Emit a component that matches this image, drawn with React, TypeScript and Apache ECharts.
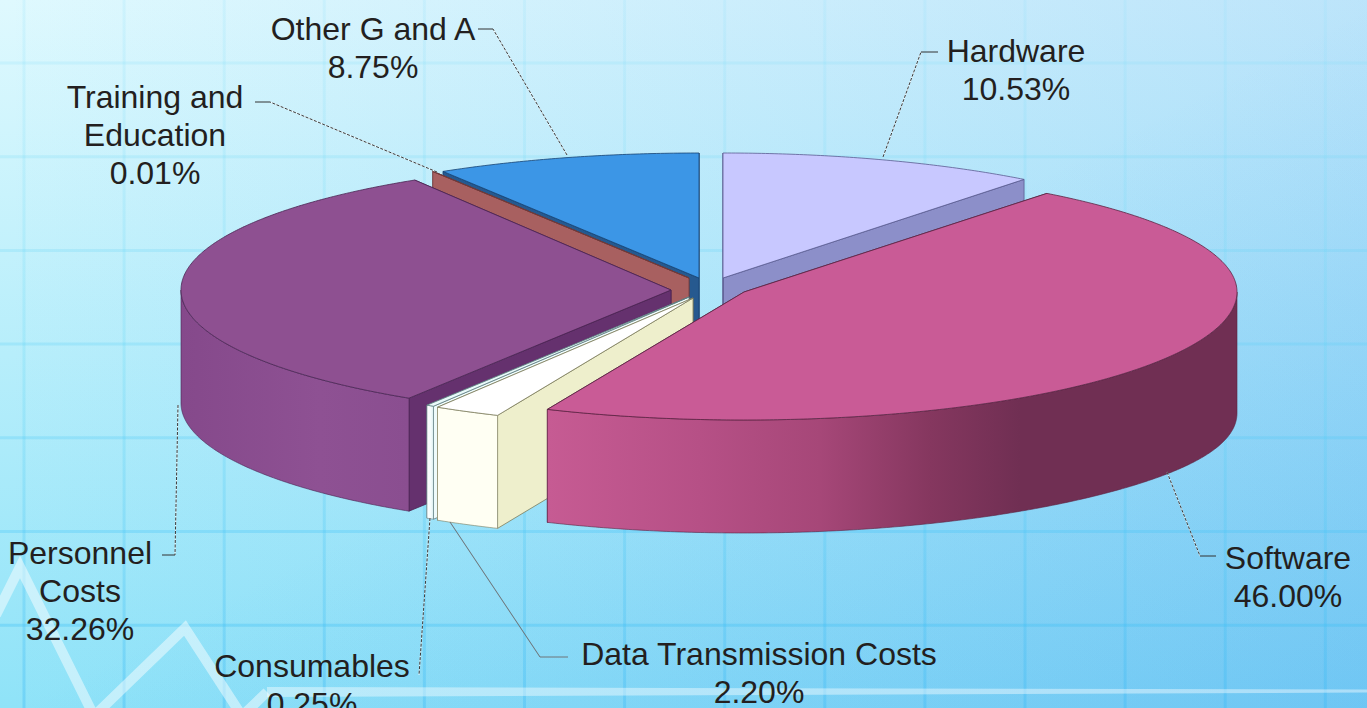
import React, { useEffect, useRef } from "react";
import * as echarts from "echarts";

const categories = ["Hardware", "Software", "Data Transmission Costs", "Consumables", "Personnel Costs", "Training and Education", "Other G and A"];
const shares = [10.53, 46.0, 2.2, 0.25, 32.26, 0.01, 8.75];
const wrappedNames = ["Hardware", "Software", "Data Transmission Costs", "Consumables", "Personnel\nCosts", "Training and\nEducation", "Other G and A"];

// Layout of each exploded slice (apex of the top face)
const apexX = [723, 744, 693, 689, 671, 689, 699];
const apexY = [278, 292, 298, 297, 290, 278, 278];
const radiusX = [490, 493, 490, 490, 490, 490, 490];
const radiusBack = [125, 125, 125, 125, 129, 125, 125];
const topColors = ["#C8C8FF", "#C95B96", "#FFFFFF", "#EAFBFB", "#8E5091", "#A86060", "#3C96E6"];
const wallColors = ["#8C8FC9", "#702F52", "#EEEFCC", "#EEFBFB", "#65316E", "#A86060", "#26598F"];
const edgeColors = ["#5A5C90", "#5A2442", "#7C7C5C", "#5E7C80", "#4A2452", "#6E3A3A", "#174272"];
const paintOrder = [6, 5, 0, 4, 3, 2, 1];

const outerStops: Record<number, [number, string][]> = {
  1: [[548, "#C65B93"], [700, "#B65086"], [820, "#A64778"], [930, "#85375F"], [1020, "#702F53"], [1237, "#702F53"]],
  2: [[437, "#FFFFF3"], [496, "#FFFFF3"]],
  3: [[427, "#FFFFFF"], [431, "#F4FCFC"], [436, "#B8DCE0"]],
  4: [[181, "#85498B"], [320, "#8E5193"], [408, "#8A4E90"]],
};

const labelCenterX = [1016, 1288, 759, 312, 80, 155, 373];
const labelTopY = [32, 539, 635, 647, 534, 78, 10];
const labelLineHeight = 38;
const leaderLines: number[][][] = [
  [[883, 157], [921, 52], [938, 52]],
  [[1167, 472], [1200, 556], [1216, 556]],
  [[450, 522], [540, 657], [568, 657]],
  [[430, 518], [419, 675], [419, 675]],
  [[178, 405], [175, 555], [162, 555]],
  [[437, 172], [270, 102], [255, 102]],
  [[567, 155], [493, 29], [478, 29]],
];

const RY_FRONT = 128;
const DEPTH = 113;
const SAG = 8;

const startPct: number[] = [];
shares.reduce((sum, v, i) => {
  startPct[i] = sum;
  return sum + v;
}, 0);

function rim(i: number, deg: number, dy = 0): number[] {
  const a = (deg * Math.PI) / 180;
  const c = Math.cos(a);
  const s = Math.sin(a);
  const ry = c > 0 ? radiusBack[i] : RY_FRONT;
  const sag = dy > 0 && s > 0 ? SAG * Math.pow(s, 6) : 0;
  return [apexX[i] + radiusX[i] * s, apexY[i] - ry * c + dy + sag];
}

function arcPoints(i: number, from: number, to: number, dy = 0): number[][] {
  const out: number[][] = [];
  const n = Math.max(1, Math.ceil(Math.abs(to - from) / 0.5));
  for (let k = 0; k <= n; k++) out.push(rim(i, from + ((to - from) * k) / n, dy));
  return out;
}

function wall(i: number, deg: number) {
  const p = rim(i, deg);
  return [[apexX[i], apexY[i]], p, [p[0], p[1] + DEPTH], [apexX[i], apexY[i] + DEPTH]];
}

function renderSlice(_: any, api: any) {
  const i = api.value(1) as number;
  const share = api.value(0) as number;
  const a0 = (startPct[i] / 100) * 360;
  const a1 = a0 + (share / 100) * 360;
  const children: any[] = [];
  const edge = { stroke: edgeColors[i], lineWidth: 0.8 };
  children.push({ type: "polygon", shape: { points: wall(i, a1) }, style: { fill: wallColors[i], ...edge } });
  children.push({ type: "polygon", shape: { points: wall(i, a0) }, style: { fill: wallColors[i], ...edge } });
  const f0 = Math.max(a0, 90);
  const f1 = Math.min(a1, 270);
  if (f1 > f0 && outerStops[i]) {
    const top = arcPoints(i, f0, f1);
    const bottom = arcPoints(i, f1, f0, DEPTH);
    const xs = outerStops[i];
    const lo = xs[0][0];
    const hi = xs[xs.length - 1][0];
    const fill = new echarts.graphic.LinearGradient(
      lo, 0, hi, 0,
      xs.map(([x, color]) => ({ offset: (x - lo) / (hi - lo), color })),
      true
    );
    children.push({ type: "polygon", shape: { points: top.concat(bottom) }, style: { fill, stroke: edgeColors[i], lineWidth: 0.6 } });
  }
  const face = [[apexX[i], apexY[i]], ...arcPoints(i, a0, a1)];
  children.push({ type: "polygon", shape: { points: face }, style: { fill: topColors[i], stroke: edgeColors[i], lineWidth: 0.8 } });
  return { type: "group", children };
}

function renderLabel(_: any, api: any) {
  const i = api.value(1) as number;
  const share = api.value(0) as number;
  const pts = leaderLines[i];
  const plain = i === 2;
  return {
    type: "group",
    children: [
      { type: "polyline", shape: { points: pts.slice(0, 2) }, style: { fill: "none", stroke: plain ? "rgba(90,90,90,0.1)" : "rgba(255,255,255,0.7)", lineWidth: 1.1 } },
      { type: "polyline", shape: { points: pts.slice(0, 2) }, style: { fill: "none", stroke: plain ? "#6f7478" : "#3a3a3a", lineWidth: 1, lineDash: plain ? undefined : [3, 1.5] } },
      { type: "polyline", shape: { points: pts.slice(1) }, style: { fill: "none", stroke: plain ? "#6f7478" : "#333", lineWidth: 1 } },
      {
        type: "text",
        style: {
          text: `${wrappedNames[i]}\n${share.toFixed(2)}%`,
          x: labelCenterX[i],
          y: labelTopY[i],
          align: "center",
          verticalAlign: "top",
          fontFamily: "Liberation Sans",
          fontSize: 32,
          lineHeight: labelLineHeight,
          fill: "#231F20",
        },
      },
    ],
  };
}

function gridStroke() {
  return new echarts.graphic.LinearGradient(0, 0, 0, 708, [
    { offset: 0, color: "rgba(150,225,250,0.2)" },
    { offset: 0.5, color: "rgba(100,215,245,0.24)" },
    { offset: 1, color: "rgba(60,185,245,0.36)" },
  ], true);
}

function backdrop() {
  const els: any[] = [
    {
      type: "rect",
      shape: { x: 0, y: 0, width: 1367, height: 708 },
      style: {
        fill: new echarts.graphic.LinearGradient(0, 0, 0, 1, [
          { offset: 0, color: "#DFF9FE" },
          { offset: 1, color: "#8FE3F8" },
        ]),
      },
    },
    {
      type: "rect",
      shape: { x: 0, y: 0, width: 1367, height: 708 },
      style: {
        fill: new echarts.graphic.LinearGradient(0, 0, 1, 0, [
          { offset: 0, color: "rgba(40,140,235,0)" },
          { offset: 1, color: "rgba(40,140,235,0.19)" },
        ]),
      },
    },
    {
      type: "rect",
      shape: { x: 0, y: 0, width: 1367, height: 708 },
      style: {
        fill: new echarts.graphic.LinearGradient(0.5, 0.5, 1, 1, [
          { offset: 0, color: "rgba(30,120,230,0)" },
          { offset: 1, color: "rgba(30,120,230,0.14)" },
        ]),
      },
    },
  ];
  for (let k = 0; k < 14; k++) {
    const x = 24 + 100.1 * k;
    els.push({ type: "line", shape: { x1: x, y1: 0, x2: x, y2: 708 }, style: { stroke: gridStroke(), lineWidth: 3 } });
  }
  for (let k = 0; k < 7; k++) {
    const y = 63 + 93.7 * k;
    els.push({ type: "line", shape: { x1: 0, y1: y, x2: 1367, y2: y }, style: { stroke: `rgba(${120 - k * 10},${222 - k * 5},247,${0.18 + k * 0.025})`, lineWidth: 3 } });
  }
  els.push({
    type: "polyline",
    shape: { points: [[-4, 615], [20, 567], [94, 716], [185, 628], [242, 716], [267, 692]] },
    style: { fill: "none", stroke: "rgba(255,255,255,0.48)", lineWidth: 10, lineJoin: "miter" },
  });
  els.push({
    type: "polygon",
    shape: { points: [[267, 687], [1367, 689.5], [1367, 692.5], [267, 697]] },
    style: { fill: "rgba(255,255,255,0.42)" },
  });
  return els;
}

export default function App() {
  const ref = useRef<HTMLDivElement>(null);
  useEffect(() => {
    document.body.style.margin = "0";
    document.body.style.overflow = "hidden";
    const chart = echarts.init(ref.current!, undefined, { renderer: "svg" });
    const rows = paintOrder.map((i) => ({ name: categories[i], value: [shares[i], i] }));
    chart.setOption({
      animation: false,
      graphic: { elements: backdrop() },
      series: [
        { type: "custom", coordinateSystem: "none", renderItem: renderSlice, data: rows, silent: true, z: 2 },
        { type: "custom", coordinateSystem: "none", renderItem: renderLabel, data: rows, silent: true, z: 5 },
      ],
    });
    return () => chart.dispose();
  }, []);
  return <div ref={ref} style={{ width: 1367, height: 708 }} />;
}
